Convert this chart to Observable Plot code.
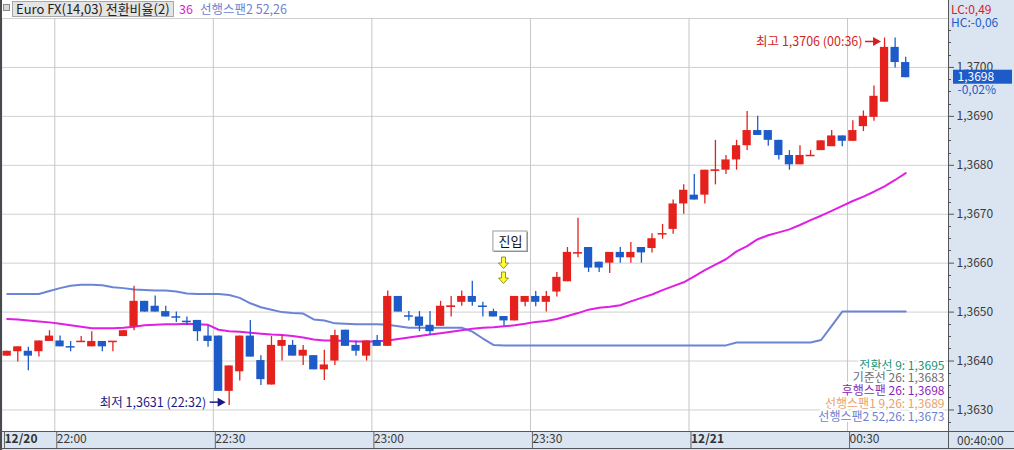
<!DOCTYPE html>
<html>
<head>
<meta charset="utf-8">
<script src="https://cdn.jsdelivr.net/npm/d3@7"></script>
<script src="https://cdn.jsdelivr.net/npm/@observablehq/plot@0.6"></script>
<style>
  body { margin: 0; background: #ffffff; overflow: hidden; }
  #wrap { position: relative; width: 1014px; height: 450px; background: #dbe5f1; overflow: hidden;
          font-family: "Noto Sans CJK KR", "Noto Sans", sans-serif; font-size: 12px; }
  #top { position: absolute; left: 0; top: 0; width: 948px; height: 18px; background: #ffffff; white-space: nowrap; }
  #top .ico { position: absolute; left: 3px; top: 4px; width: 5px; height: 5px; border: 1px solid #8a8a8a; background: #d8d8d8; }
  #top .btn { position: absolute; left: 12px; top: 1px; height: 14px; line-height: 14px; padding: 0 3px; border: 1px solid #a8a8a8; background: #e4e4e4; color: #222; font-size: 13px; }
  #top .s1 { position: absolute; left: 179px; top: 1px; line-height: 15px; color: #e020d8; font-size: 12.5px; }
  #top .s2 { position: absolute; left: 200px; top: 1px; line-height: 15px; color: #6d82cf; font-size: 12.5px; }
  #lc { position: absolute; left: 951px; top: 2px; line-height: 13px; color: #d8201e; }
  #hc { position: absolute; left: 951px; top: 15px; line-height: 13px; color: #1d5cc8; }
  #ct { position: absolute; left: 957px; top: 432px; line-height: 15px; color: #3a3a3a; }
  #chart { position: absolute; left: 0; top: 18px; }
  .ln { position: absolute; background: #555555; }
</style>
</head>
<body>
<div id="wrap">
  <div id="top">
    <span class="ico"></span>
    <span class="btn" id="title"></span>
    <span class="s1" id="leg1"></span>
    <span class="s2" id="leg2"></span>
  </div>
  <div id="chart"></div>
  <div id="lc"></div>
  <div id="hc"></div>
  <div id="ct"></div>
  <div class="ln" style="left:0;top:0;width:2px;height:450px;background:#4a4a4a"></div>
  <div class="ln" style="left:948px;top:0;width:1px;height:448px"></div>
  <div class="ln" style="left:0;top:431px;width:1014px;height:1px"></div>
  <div class="ln" style="left:0;top:448px;width:1014px;height:1px"></div>
</div>
<script>
// ---------- data ----------
const opens = [1.36410,1.36419,1.36420,1.36419,1.36440,1.36441,1.36429,1.36439,1.36429,1.36440,
  1.36439,1.36450,1.36470,1.36522,1.36512,1.36501,1.36490,1.36481,1.36483,1.36451,
  1.36451,1.36338,1.36378,1.36451,1.36401,1.36351,1.36430,1.36432,1.36410,1.36411,
  1.36382,1.36400,1.36463,1.36432,1.36410,1.36442,1.36430,1.36532,1.36492,1.36490,
  1.36473,1.36471,1.36510,1.36520,1.36532,1.36512,1.36501,1.36491,1.36482,1.36520,
  1.36532,1.36520,1.36541,1.36562,1.36620,1.36632,1.36602,1.36600,1.36622,1.36611,
  1.36632,1.36630,1.36659,1.36669,1.36721,1.36739,1.36739,1.36789,1.36790,1.36811,
  1.36840,1.36871,1.36871,1.36851,1.36820,1.36801,1.36819,1.36830,1.36838,1.36860,
  1.36849,1.36879,1.36898,1.36929,1.37041,1.37010];
const highs = [1.36420,1.36429,1.36428,1.36441,1.36462,1.36451,1.36440,1.36450,1.36460,1.36440,
  1.36440,1.36462,1.36553,1.36522,1.36533,1.36512,1.36500,1.36490,1.36483,1.36472,
  1.36451,1.36390,1.36451,1.36483,1.36411,1.36450,1.36452,1.36442,1.36432,1.36411,
  1.36422,1.36463,1.36463,1.36441,1.36441,1.36452,1.36543,1.36532,1.36501,1.36501,
  1.36501,1.36522,1.36532,1.36543,1.36563,1.36520,1.36506,1.36491,1.36532,1.36532,
  1.36542,1.36542,1.36581,1.36632,1.36692,1.36632,1.36602,1.36622,1.36632,1.36642,
  1.36632,1.36660,1.36679,1.36729,1.36760,1.36781,1.36790,1.36851,1.36820,1.36851,
  1.36910,1.36900,1.36871,1.36851,1.36830,1.36840,1.36830,1.36850,1.36871,1.36860,
  1.36891,1.36911,1.36962,1.37060,1.37060,1.37021];
const lows = [1.36410,1.36398,1.36380,1.36408,1.36440,1.36429,1.36419,1.36439,1.36429,1.36419,
  1.36419,1.36450,1.36462,1.36500,1.36500,1.36490,1.36479,1.36472,1.36440,1.36428,
  1.36338,1.36309,1.36359,1.36408,1.36350,1.36351,1.36400,1.36410,1.36391,1.36382,
  1.36360,1.36391,1.36430,1.36410,1.36400,1.36430,1.36430,1.36500,1.36482,1.36460,
  1.36452,1.36471,1.36490,1.36512,1.36512,1.36490,1.36490,1.36471,1.36482,1.36511,
  1.36511,1.36500,1.36531,1.36562,1.36611,1.36581,1.36581,1.36579,1.36600,1.36600,
  1.36600,1.36621,1.36649,1.36659,1.36700,1.36729,1.36721,1.36760,1.36781,1.36790,
  1.36830,1.36861,1.36839,1.36811,1.36790,1.36801,1.36819,1.36830,1.36838,1.36838,
  1.36849,1.36869,1.36890,1.36929,1.36999,1.36979];
const closes = [1.36420,1.36429,1.36410,1.36441,1.36451,1.36429,1.36429,1.36440,1.36440,1.36429,
  1.36440,1.36462,1.36522,1.36500,1.36500,1.36490,1.36490,1.36481,1.36460,1.36440,
  1.36338,1.36390,1.36451,1.36408,1.36362,1.36432,1.36442,1.36410,1.36422,1.36382,
  1.36392,1.36452,1.36430,1.36420,1.36441,1.36430,1.36532,1.36500,1.36492,1.36471,
  1.36460,1.36512,1.36512,1.36532,1.36520,1.36512,1.36490,1.36482,1.36532,1.36532,
  1.36520,1.36532,1.36571,1.36622,1.36621,1.36590,1.36590,1.36622,1.36611,1.36622,
  1.36621,1.36650,1.36660,1.36721,1.36749,1.36729,1.36790,1.36790,1.36811,1.36840,
  1.36871,1.36861,1.36851,1.36820,1.36801,1.36820,1.36820,1.36850,1.36860,1.36849,
  1.36871,1.36900,1.36941,1.37041,1.37010,1.36979];
const magentaLine = [1.36486,1.36485,1.36483,1.36481,1.36479,1.36476,1.36473,1.36470,1.36467,1.36467,
  1.36467,1.36468,1.36470,1.36473,1.36474,1.36475,1.36475,1.36476,1.36475,1.36474,
  1.36464,1.36461,1.36460,1.36458,1.36456,1.36454,1.36453,1.36451,1.36448,1.36444,
  1.36442,1.36442,1.36441,1.36440,1.36440,1.36440,1.36442,1.36445,1.36448,1.36451,
  1.36454,1.36457,1.36460,1.36463,1.36466,1.36468,1.36469,1.36471,1.36473,1.36476,
  1.36480,1.36482,1.36486,1.36492,1.36498,1.36505,1.36509,1.36511,1.36514,1.36522,
  1.36529,1.36536,1.36545,1.36553,1.36561,1.36573,1.36586,1.36597,1.36608,1.36624,
  1.36635,1.36649,1.36657,1.36663,1.36669,1.36678,1.36688,1.36697,1.36707,1.36717,
  1.36727,1.36736,1.36746,1.36757,1.36770,1.36784];
const span2Line = [1.36537,1.36537,1.36537,1.36537,1.36543,1.36549,1.36554,1.36556,1.36556,1.36555,
  1.36551,1.36549,1.36546,1.36545,1.36544,1.36544,1.36542,1.36538,1.36537,1.36537,
  1.36537,1.36535,1.36529,1.36518,1.36510,1.36505,1.36500,1.36498,1.36497,1.36485,
  1.36483,1.36477,1.36476,1.36475,1.36475,1.36475,1.36474,1.36471,1.36468,1.36468,
  1.36468,1.36468,1.36468,1.36468,1.36460,1.36446,1.36433,1.36432,1.36432,1.36432,
  1.36432,1.36432,1.36432,1.36432,1.36432,1.36432,1.36432,1.36432,1.36432,1.36432,
  1.36432,1.36432,1.36432,1.36432,1.36432,1.36432,1.36432,1.36432,1.36432,1.36438,
  1.36438,1.36438,1.36438,1.36438,1.36438,1.36438,1.36438,1.36443,1.36472,1.36501,
  1.36501,1.36501,1.36501,1.36501,1.36501,1.36501];

const yTickValues = [1.363, 1.364, 1.365, 1.366, 1.367, 1.368, 1.369, 1.370];
const yGridValues = [1.363, 1.364, 1.365, 1.366, 1.367, 1.368, 1.369, 1.370, 1.371];
const timeTickIdx = [4.5, 19.5, 34.5, 49.5, 79.5];
const timeTickLabels = ["22:00", "22:30", "23:00", "23:30", "00:30"];
const dateTickIdx = [-0.445, 64.5];
const dateTickLabels = ["12/20", "12/21"];
const gridXIdx = [4.5, 19.5, 34.5, 49.5, 64.5, 79.5];

const legendNames = ["전환선 9: ", "기준선 26: ", "후행스팬 26: ", "선행스팬1 9,26: ", "선행스팬2 52,26: "];
const legendValues = ["1,3695", "1,3683", "1,3698", "1,3689", "1,3673"];
const legendColors = ["#17957a", "#6e6e6e", "#8a1fbd", "#eaa26e", "#6d82cf"];

const titleText = "Euro FX(14,03) 전환비율(2)";
const topLegend1 = "36";
const topLegend2 = "선행스팬2 52,26";
const lcText = "LC:0,49";
const hcText = "HC:-0,06";
const lastPriceText = "1,3698";
const lastChangeText = "-0,02%";
const cursorTime = "00:40:00";
const lowIdx = 21, lowText = "최저 1,3631 (22:32)";
const highIdx = 83, highText = "최고 1,3706 (00:36)";
const entryIdx = 47, entryText = "진입";

// ---------- build ----------
document.getElementById("title").textContent = titleText;
document.getElementById("leg1").textContent = topLegend1;
document.getElementById("leg2").textContent = topLegend2;
document.getElementById("lc").textContent = lcText;
document.getElementById("hc").textContent = hcText;
document.getElementById("ct").textContent = cursorTime;

const RED = "#e4211d", BLUE = "#1d5cc8";
const candles = opens.map((o, i) => ({i, open: o, high: highs[i], low: lows[i], close: closes[i]}));
const col = d => d.close > d.open ? RED : BLUE;
const dojis = candles.filter(d => Math.abs(d.close - d.open) < 0.00003);
const magenta = magentaLine.map((v, i) => ({i, v}));
const span2 = span2Line.map((v, i) => ({i, v}));
const fmt = d => d.toFixed(4).replace(".", ",");
const minorTicks = d3.range(1.36275, 1.37101, 0.00025).filter(v => Math.abs(v * 1000 - Math.round(v * 1000)) > 0.01);
const lastClose = closes[closes.length - 1];

function calloutArrow(idx, price, color) {
  return (index, scales) => {
    const cx = scales.x(idx), cy = scales.y(price);
    const g = d3.create("svg:g");
    g.append("line").attr("x1", cx - 19).attr("x2", cx - 10).attr("y1", cy).attr("y2", cy)
      .attr("stroke", color).attr("stroke-width", 1.5);
    g.append("path").attr("d", `M${cx - 11},${cy - 4.5}L${cx - 3},${cy}L${cx - 11},${cy + 4.5}Z`).attr("fill", color);
    return g.node();
  };
}
function entryDecor(index, scales) {
  const cx = scales.x(entryIdx), cy = scales.y(highs[entryIdx]);
  const g = d3.create("svg:g");
  g.append("rect").attr("x", cx - 9.6).attr("y", cy - 84).attr("width", 34).attr("height", 20)
    .attr("fill", "#8a8a8a");
  g.append("rect").attr("x", cx - 10.6).attr("y", cy - 85).attr("width", 34).attr("height", 20)
    .attr("fill", "#ffffff").attr("stroke", "#9a9a9a");
  for (const top of [cy - 59, cy - 44]) {
    g.append("path")
      .attr("d", `M${cx - 2},${top}L${cx + 2},${top}L${cx + 2},${top + 6}L${cx + 5},${top + 6}L${cx},${top + 11.5}L${cx - 5},${top + 6}L${cx - 2},${top + 6}Z`)
      .attr("fill", "#ffff30").attr("stroke", "#7a7a10").attr("stroke-width", 0.8);
  }
  return g.node();
}
function priceBox(index, scales, values, dims) {
  const y = scales.y(lastClose), x0 = dims.width - dims.marginRight;
  const g = d3.create("svg:g");
  g.append("rect").attr("x", x0 + 5).attr("y", y - 7.5).attr("width", 59).attr("height", 14).attr("fill", BLUE);
  return g.node();
}
function minorTickMarks(index, scales, values, dims) {
  const g = d3.create("svg:g").attr("stroke", "#555");
  const x0 = dims.width - dims.marginRight;
  for (const v of minorTicks) {
    const y = Math.round(scales.y(v)) + 0.5;
    g.append("line").attr("x1", x0).attr("x2", x0 + 3).attr("y1", y).attr("y2", y);
  }
  return g.node();
}

const legendDy = [-62, -49.25, -36.5, -23.75, -11];
const legendMarks = legendNames.map((n, k) =>
  Plot.text([n + legendValues[k]], {
    frameAnchor: "bottom-right", dx: -4, dy: legendDy[k],
    textAnchor: "end", fill: legendColors[k], stroke: "white", strokeWidth: 4, paintOrder: "stroke", fontSize: 12
  })
);

const chart = Plot.plot({
  width: 1014, height: 432,
  marginTop: 0, marginBottom: 19, marginLeft: 2, marginRight: 66,
  style: {fontFamily: '"Noto Sans CJK KR", "Noto Sans", sans-serif', fontSize: "12px", color: "#3a3a3a", background: "transparent"},
  x: {type: "linear", domain: [-0.445, 89.05], axis: null, label: null},
  y: {domain: [1.36256, 1.37100], axis: null, label: null},
  marks: [
    Plot.frame({fill: "white", stroke: "none"}),
    Plot.gridY({ticks: yGridValues, stroke: "#d0d0d0", strokeOpacity: 1}),
    Plot.gridX({ticks: gridXIdx, stroke: "#c6c6c6", strokeOpacity: 1}),
    Plot.line(span2, {x: "i", y: "v", stroke: "#6c84d6", strokeWidth: 2}),
    Plot.line(magenta, {x: "i", y: "v", stroke: "#e01ee4", strokeWidth: 2}),
    Plot.ruleX(candles, {x: "i", y1: "low", y2: "high", stroke: col, strokeWidth: 1.3}),
    Plot.rect(candles, {x1: d => d.i - 0.39, x2: d => d.i + 0.39,
      y1: d => Math.min(d.open, d.close), y2: d => Math.max(d.open, d.close), fill: col}),
    Plot.ruleY(dojis, {x1: d => d.i - 0.42, x2: d => d.i + 0.42, y: "close", stroke: col, strokeWidth: 1.5}),
    // right axis
    Plot.axisY({anchor: "right", label: null, ticks: yTickValues, tickSize: 5, tickPadding: 3, tickFormat: fmt, stroke: "#555", fill: "#3a3a3a", fontSize: 12}),
    minorTickMarks,
    priceBox,
    Plot.text([lastPriceText], {y: () => lastClose, frameAnchor: "right", dx: 9, dy: -0.5, textAnchor: "start", fill: "white", fontSize: 12}),
    Plot.text([lastChangeText], {y: () => lastClose, frameAnchor: "right", dx: 9, dy: 12.5, textAnchor: "start", fill: BLUE, fontSize: 12}),
    // bottom axis
    Plot.axisX({anchor: "bottom", label: null, ticks: timeTickIdx, tickFormat: (d) => timeTickLabels[timeTickIdx.indexOf(d)],
      tickSize: 17, tickPadding: -14, textAnchor: "start", dx: 2, stroke: "#666", fill: "#3a3a3a", fontSize: 12}),
    Plot.axisX({anchor: "bottom", label: null, ticks: dateTickIdx, tickFormat: (d) => dateTickLabels[dateTickIdx.indexOf(d)],
      tickSize: 17, tickPadding: -14, textAnchor: "start", dx: 2, stroke: "#666", fill: "#333", fontSize: 12, fontWeight: "bold"}),
    // legend box bottom right
    ...legendMarks,
    // annotations
    calloutArrow(lowIdx, lows[lowIdx] + 0.00006, "#1b1b85"),
    Plot.text([lowText], {x: () => lowIdx, y: () => lows[lowIdx] + 0.00006, textAnchor: "end", dx: -23, fill: "#1b1b85", fontSize: 12.5}),
    calloutArrow(highIdx, highs[highIdx] - 0.00008, "#d21f1f"),
    Plot.text([highText], {x: () => highIdx, y: () => highs[highIdx] - 0.00008, textAnchor: "end", dx: -22, fill: "#d21f1f", fontSize: 12.5}),
    entryDecor,
    Plot.text([entryText], {x: () => entryIdx, y: () => highs[entryIdx], dx: 6.4, dy: -75, fill: "#111", fontSize: 13})
  ]
});
document.getElementById("chart").appendChild(chart);
</script>
</body>
</html>
